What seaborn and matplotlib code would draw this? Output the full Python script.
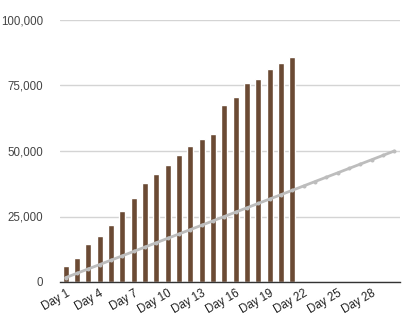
import matplotlib
matplotlib.use("Agg")
import matplotlib.pyplot as plt
import seaborn as sns
import pandas as pd
from matplotlib.ticker import FuncFormatter

days = [f"Day {i}" for i in range(1, 31)]
actual = [6000, 9300, 14600, 17700, 21900, 27200, 32200, 37700, 41100, 44500,
          48400, 51800, 54500, 56600, 67400, 70700, 75800, 77600, 81200, 83500,
          86000]
target = [1667, 3333, 5000, 6667, 8333, 10000, 11667, 13333, 15000, 16667,
          18333, 20000, 21667, 23333, 25000, 26667, 28333, 30000, 31667, 33333,
          35000, 36667, 38333, 40000, 41667, 43333, 45000, 46667, 48333, 50000]
tick_labels = [d for i, d in enumerate(days) if i % 3 == 0]
y_ticks = [0, 25000, 50000, 75000, 100000]

sns.set_theme(style="white")
plt.rcParams['font.family'] = ['Liberation Sans', 'DejaVu Sans']

fig = plt.figure(figsize=(4.09, 3.24), dpi=100)
ax = fig.add_axes([60/409, 1-282/324, 340/409, 262/324])

bar_df = pd.DataFrame({"day": days[:len(actual)], "value": actual})
sns.barplot(data=bar_df, x="day", y="value", order=days, color="#6b4a34",
            width=0.53, saturation=1, ax=ax, zorder=2)

line_df = pd.DataFrame({"day": days, "value": target})
sns.pointplot(data=line_df, x="day", y="value", order=days, color="#bdbdbd",
              markers="o", markersize=1.4, linewidth=2, ax=ax, zorder=3)

ax.set_xlim(-0.5, 29.5)
ax.set_ylim(0, 100000)
ax.set_yticks(y_ticks)
ax.yaxis.set_major_formatter(FuncFormatter(lambda v, p: f"{int(v):,}"))
ax.set_xticks([days.index(t) for t in tick_labels])
ax.set_xticklabels(tick_labels, rotation=30, ha="right", rotation_mode="anchor")
ax.tick_params(axis="x", length=0, pad=4, labelsize=8.3, colors="#222222")
ax.tick_params(axis="y", length=0, pad=12, labelsize=8.3, colors="#444444")
for lbl in ax.get_xticklabels():
    lbl.set_color("#222222")
ax.grid(axis="y", color="#d4d4d4", linewidth=1, zorder=0)
ax.set_axisbelow(True)
for s in ["top", "right", "left"]:
    ax.spines[s].set_visible(False)
ax.spines["bottom"].set_color("#333333")
ax.spines["bottom"].set_linewidth(1)
ax.spines["bottom"].set_zorder(4)
ax.set_xlabel("")
ax.set_ylabel("")

fig.savefig("out.png", dpi=100)
